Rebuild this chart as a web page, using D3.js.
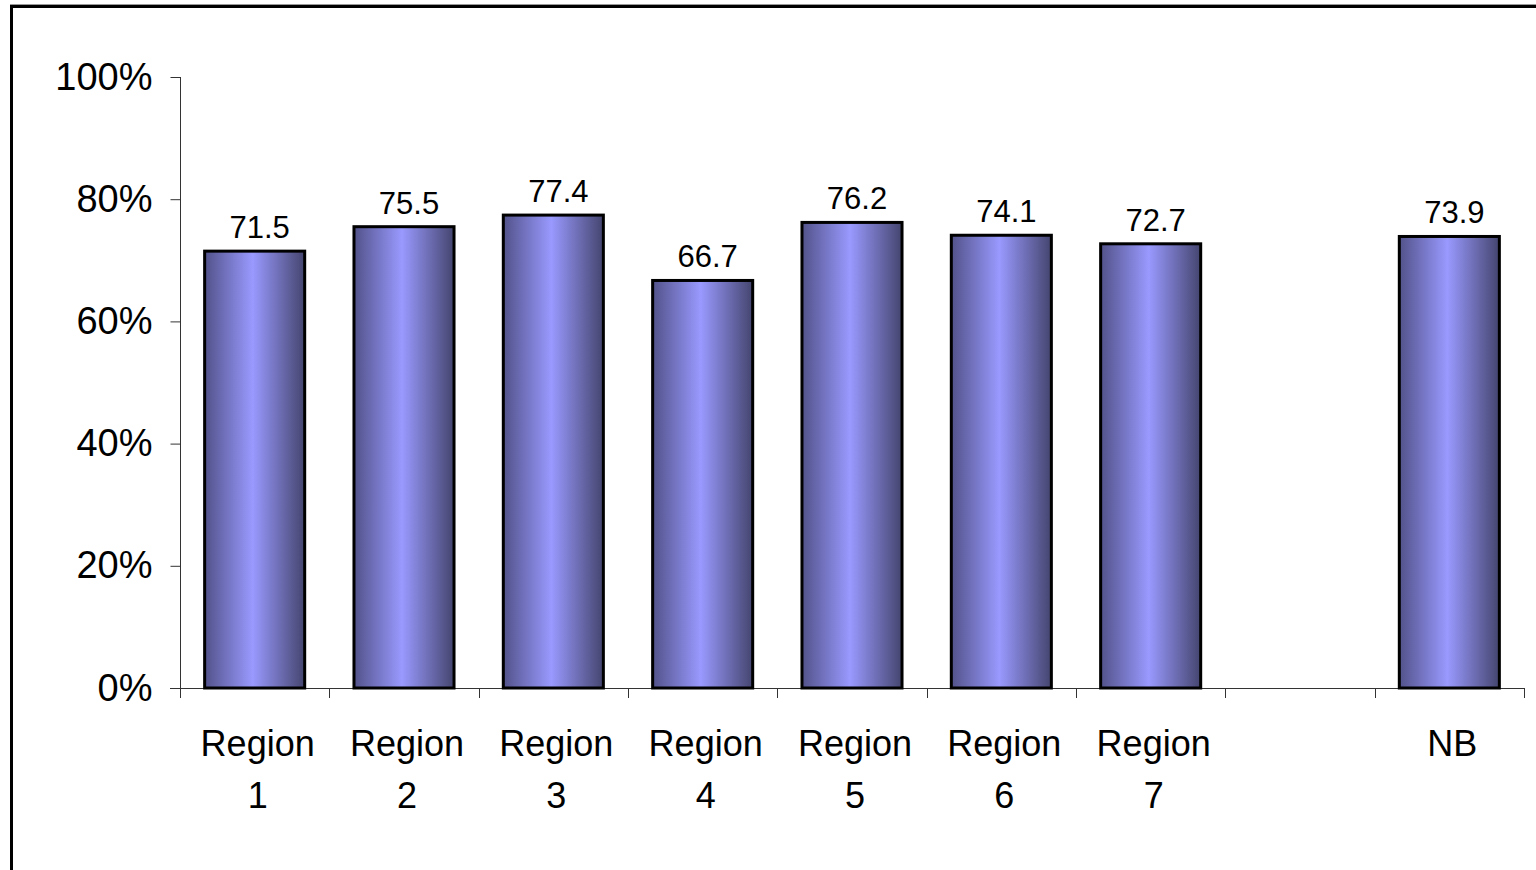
<!DOCTYPE html>
<html>
<head>
<meta charset="utf-8">
<script src="https://cdn.jsdelivr.net/npm/d3@7"></script>
<style>
html,body{margin:0;padding:0;background:#fff;overflow:hidden;}
svg{display:block;}
text{font-family:"Liberation Sans",Arial,sans-serif;fill:#000;}
</style>
</head>
<body>
<svg id="chart" width="1536" height="870"></svg>
<script>
const categories = ["Region 1","Region 2","Region 3","Region 4","Region 5","Region 6","Region 7","","NB"];
const values = [71.5, 75.5, 77.4, 66.7, 76.2, 74.1, 72.7, null, 73.9];
const yTicks = [0, 20, 40, 60, 80, 100];

(function () {
const svg = d3.select("#chart");
const W = 1536, H = 870;
const pLeft = 180, pRight = 1524, pTop = 77, pBottom = 688;

// frame
svg.append("rect").attr("x", 11.5).attr("y", 6.5).attr("width", W + 10).attr("height", H + 10)
  .attr("fill", "#fff").attr("stroke", "#000").attr("stroke-width", 3);
svg.append("line").attr("x1", 10).attr("x2", W).attr("y1", 4.5).attr("y2", 4.5)
  .attr("stroke", "#999").attr("stroke-width", 1);

const defs = svg.append("defs");
const g = defs.append("linearGradient").attr("id", "barGrad").attr("x1", "0%").attr("x2", "100%").attr("y1", "0%").attr("y2", "0%");
g.append("stop").attr("offset", "0%").attr("stop-color", "#52528a");
g.append("stop").attr("offset", "48%").attr("stop-color", "#9999ff");
g.append("stop").attr("offset", "100%").attr("stop-color", "#45456f");

const x = d3.scaleBand().domain(categories.map((c, i) => i)).range([pLeft, pRight])
  .paddingInner(0.33).paddingOuter(0.165);
const y = d3.scaleLinear().domain([0, 100]).range([pBottom, pTop]);

// y axis
const yAxis = d3.axisLeft(y).tickValues(yTicks).tickFormat(d => d + "%").tickSize(10).tickSizeOuter(0).tickPadding(18);
const ya = svg.append("g").attr("transform", `translate(${pLeft + 0.5},0)`).call(yAxis);
ya.selectAll("path,line").attr("stroke", "#333").attr("stroke-width", 1);
ya.selectAll("text").attr("font-size", 38).attr("font-family", '"Liberation Sans",Arial,sans-serif').attr("fill", "#000");
ya.select(".domain").attr("d", `M0,${pTop}V${pBottom}`);

// x axis line and ticks at slot boundaries
const step = x.step();
svg.append("line").attr("x1", pLeft - 10).attr("x2", pRight).attr("y1", pBottom + 0.5).attr("y2", pBottom + 0.5)
  .attr("stroke", "#333");
const bounds = d3.range(categories.length + 1).map(i => pLeft + i * step);
svg.selectAll(".xt").data(bounds).join("line")
  .attr("x1", d => Math.round(d) + 0.5).attr("x2", d => Math.round(d) + 0.5)
  .attr("y1", pBottom).attr("y2", pBottom + 10).attr("stroke", "#333");

// bars
const data = categories.map((c, i) => ({c, i, v: values[i]})).filter(d => d.v != null);
svg.selectAll(".bar").data(data).join("rect")
  .attr("x", d => x(d.i)).attr("width", x.bandwidth())
  .attr("y", d => y(d.v)).attr("height", d => y(0) - y(d.v))
  .attr("fill", "url(#barGrad)").attr("stroke", "#000").attr("stroke-width", 3);

// value labels
svg.selectAll(".val").data(data).join("text")
  .attr("x", d => x(d.i) + x.bandwidth() / 2 + 5).attr("y", d => y(d.v) - 13)
  .attr("text-anchor", "middle").attr("font-size", 31)
  .text(d => d.v.toFixed(1));

// category labels
const lab = svg.selectAll(".cat").data(categories.map((c, i) => ({c, i}))).join("text")
  .attr("text-anchor", "middle").attr("font-size", 36)
  .attr("x", d => x(d.i) + x.bandwidth() / 2 + 3).attr("y", 756);
lab.each(function(d) {
  const parts = d.c.split(" ");
  const t = d3.select(this);
  parts.forEach((p, k) => {
    t.append("tspan").attr("x", x(d.i) + x.bandwidth() / 2 + 3).attr("dy", k === 0 ? 0 : 52).text(p);
  });
});
})();
</script>
</body>
</html>
